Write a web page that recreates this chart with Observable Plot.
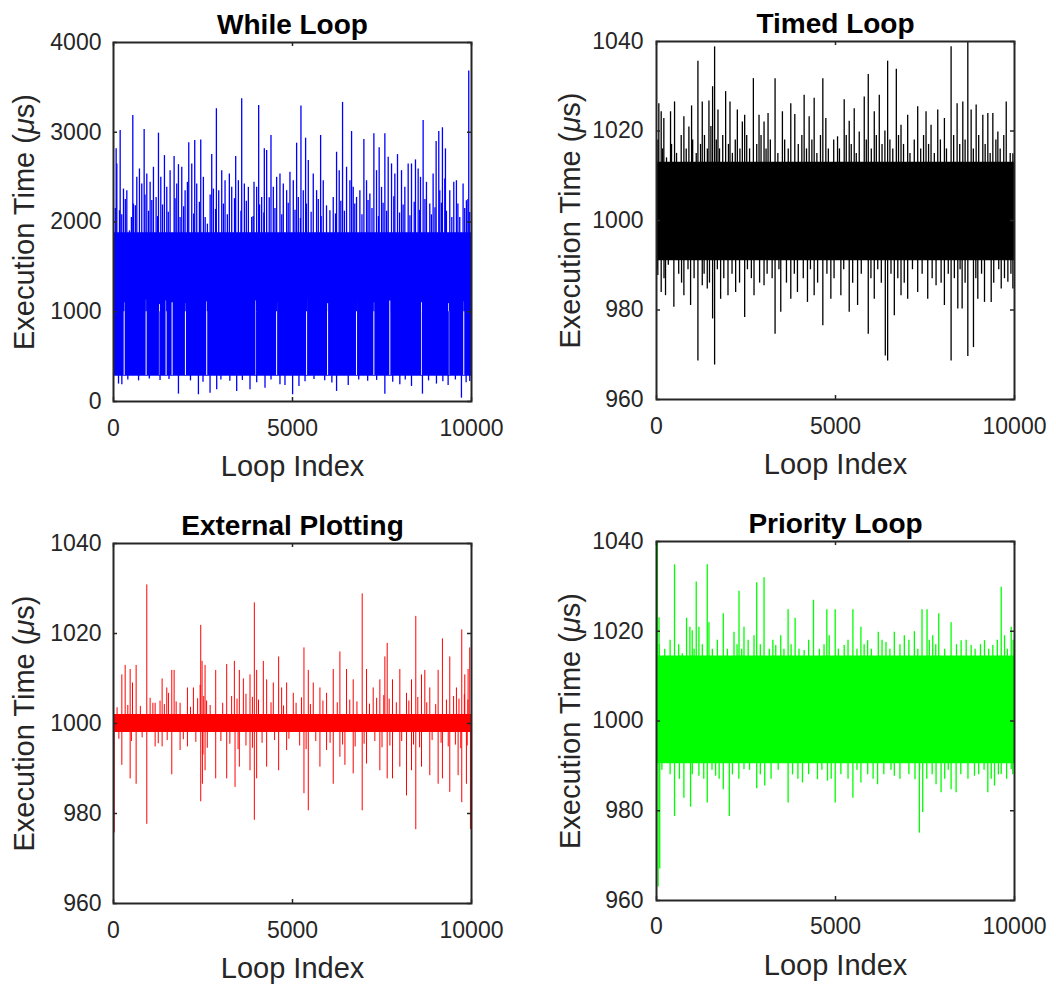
<!DOCTYPE html>
<html><head><meta charset="utf-8">
<script src="https://cdn.jsdelivr.net/npm/d3@7"></script>
<script src="https://cdn.jsdelivr.net/npm/@observablehq/plot@0.6"></script>
<style>
html,body{margin:0;padding:0;background:#fff;}
#fig{position:relative;width:1056px;height:986px;overflow:hidden;background:#fff;}
.panel{position:absolute;width:528px;height:493px;}
</style></head><body><div id="fig"></div>
<script>
// ---------- axis ticks ----------
const loopTicks = [0, 5000, 10000];
const whileTicks = [0, 1000, 2000, 3000, 4000];
const fineTicks = [960, 980, 1000, 1020, 1040];

// ---------- While Loop (blue) ----------
const whileCenter = 1000;
const whileCore = [[0, 280, 1880], [10000, 280, 1880]];
const whileTall = [[74,2815],[186,3020],[539,3187],[856,3031],[1256,2990],[1423,2740],[1693,2729],[1814,2639],[2102,2882],[2269,2908],[2437,2915],[2744,2751],[2874,3262],[3413,2729],[3581,3374],[4055,3299],[4213,2815],[4399,2964],[5115,2878],[5236,3292],[5366,2934],[5785,2964],[6231,2777],[6398,3333],[6650,3008],[6994,2919],[7273,2982],[7421,2826],[7580,2982],[7933,2751],[8435,2692],[8649,3132],[9012,2897],[9086,3008],[9188,3050],[9272,2815],[9923,3683]];
const whileMid = [[93,2647],[167,2125],[279,2367],[372,2349],[446,1901],[558,2200],[651,2498],[725,2591],[790,2423],[930,2535],[1023,2442],[1116,2610],[1190,2274],[1321,2498],[1488,2386],[1581,2572],[1767,2423],[1907,2610],[2000,2349],[2065,2442],[2186,2647],[2325,2423],[2511,2498],[2623,1976],[2790,2367],[2939,2349],[3023,2572],[3116,2460],[3236,2535],[3302,2386],[3488,2460],[3655,2423],[3767,2386],[3860,2050],[3925,2442],[3999,2386],[4139,2274],[4278,2796],[4464,2386],[4557,2498],[4650,2535],[4743,2423],[4836,2349],[4929,2554],[5022,2460],[5162,2274],[5301,2349],[5441,2684],[5580,2535],[5673,2349],[5859,2460],[6045,2125],[6138,2274],[6305,2572],[6510,2610],[6603,2460],[6696,2386],[6789,2274],[6882,2349],[7068,2460],[7161,2311],[7347,2572],[7487,2386],[7673,2721],[7766,2647],[7859,2535],[8045,2572],[8138,2386],[8231,2647],[8324,2647],[8510,2591],[8575,2498],[8742,2442],[8835,2200],[8928,2535],[9114,2349],[9254,2479],[9393,2349],[9505,2442],[9579,2460],[9672,2050],[9765,2423],[9858,2237],[9951,2106]];
const whileLow = [[50,2150],[230,2080],[330,2250],[500,2050],[610,2180],[880,2300],[980,2120],[1070,2240],[1230,2060],[1370,2190],[1530,2110],[1720,2260],[1860,2050],[1960,2170],[2240,2090],[2400,2220],[2560,2050],[2700,2300],[2850,2140],[3070,2200],[3180,2080],[3380,2260],[3560,2120],[3710,2230],[3900,2060],[4080,2190],[4200,2100],[4350,2270],[4510,2150],[4700,2080],[4880,2210],[5070,2130],[5220,2040],[5390,2200],[5520,2110],[5720,2250],[5800,2060],[5950,2180],[6200,2090],[6350,2230],[6450,2120],[6740,2200],[6940,2080],[7110,2240],[7220,2150],[7400,2060],[7530,2210],[7630,2120],[7830,2280],[7990,2100],[8090,2190],[8280,2070],[8400,2220],[8550,2130],[8700,2250],[8880,2080],[8980,2160],[9160,2210],[9300,2120],[9450,2050],[9620,2200],[9810,2150],[9900,2250]];
const whileDips = [[140,194],[233,186],[400,240],[700,230],[1000,250],[1300,235],[1550,245],[1814,82],[2150,230],[2372,75],[2500,215],[2697,93],[2883,130],[3000,240],[3250,225],[3441,112],[3600,235],[3813,130],[4000,210],[4232,149],[4400,240],[4650,186],[4790,179],[5003,75],[5180,168],[5350,220],[5600,245],[5900,230],[6100,205],[6231,112],[6557,179],[6850,240],[7100,225],[7350,235],[7580,82],[7800,215],[7998,186],[8150,240],[8324,168],[8630,82],[8800,230],[9021,194],[9200,220],[9347,179],[9550,240],[9719,37],[9850,210],[9951,224]];
const whileGaps = [[298,290,1100],[911,290,1130],[1283,290,1080],[1469,290,1120],[1637,290,1100],[2009,290,1090],[2604,290,1110],[3980,290,1120],[4557,290,1100],[5394,290,1130],[5980,290,1090],[6789,290,1110],[7273,290,1100],[7719,290,1120],[8603,290,1100],[9365,290,1090],[9784,290,1110]];

// ---------- Timed Loop (black) ----------
const timedCenter = 1001.5;
const timedCore = [[0, 991, 1013], [10000, 991, 1013]];
const timedTall = [[65,1026.1],[131,1024.3],[205,1022.8],[392,1024.3],[504,1026.5],[765,1023.2],[905,1020.9],[980,1025.6],[1157,1035.6],[1278,1026.5],[1465,1026.7],[1567,1029.9],[1623,1038.8],[1717,1024.7],[1931,1028.8],[2053,1026.5],[2258,1024.7],[2398,1022.0],[2463,1023.5],[2706,1031.7],[2864,1023.5],[3004,1022.0],[3116,1023.9],[3312,1031.7],[3517,1024.3],[3751,1026.1],[3863,1023.7],[4124,1028.0],[4264,1023.2],[4404,1027.3],[4646,1031.7],[4730,1022.8],[5057,1018.7],[5243,1027.0],[5383,1022.2],[5523,1025.0],[5663,1019.8],[5803,1027.6],[5915,1032.6],[6083,1024.3],[6223,1028.0],[6456,1035.6],[6699,1033.8],[6830,1021.3],[7016,1023.5],[7296,1025.4],[7529,1024.3],[7669,1021.3],[7856,1024.7],[8042,1022.8],[8229,1038.8],[8397,1026.1],[8556,1026.5],[8696,1040],[8789,1024.7],[8929,1025.8],[9115,1023.5],[9255,1023.9],[9395,1023.9],[9535,1019.8],[9769,1026.5],[9955,1014.9]];
const timedDeep = [[37,987.7],[131,983.9],[252,983.2],[485,980.6],[765,983.2],[952,981.0],[1157,968.6],[1278,985.4],[1418,984.7],[1567,978.0],[1623,967.7],[1791,982.4],[1997,983.2],[2211,983.9],[2463,978.3],[2724,983.2],[3004,985.4],[3312,974.6],[3471,979.5],[3751,982.4],[3937,983.9],[4217,981.7],[4404,983.2],[4646,976.5],[4870,982.4],[5150,983.2],[5383,979.5],[5617,981.0],[5915,974.6],[6083,982.4],[6391,969.7],[6456,968.6],[6643,978.7],[6830,983.2],[7016,982.4],[7296,983.9],[7576,982.4],[7809,985.4],[8042,981.0],[8229,968.6],[8416,980.2],[8537,980.2],[8696,969.6],[8854,971.6],[8975,982.4],[9162,981.7],[9349,981.7],[9629,984.7],[9815,986.2],[9955,984.7]];
const timedFringeUp = [[40,1018],[170,1016],[280,1014],[420,1017],[560,1015],[690,1019],[830,1016],[1010,1018],[1110,1015],[1230,1017],[1340,1019],[1420,1016],[1520,1021],[1670,1018],[1760,1016],[1850,1019],[2010,1017],[2120,1015],[2200,1018],[2330,1016],[2520,1019],[2600,1016],[2800,1017],[2920,1019],[3060,1016],[3180,1018],[3390,1015],[3580,1018],[3680,1016],[3960,1017],[4060,1019],[4190,1016],[4340,1018],[4480,1015],[4580,1019],[4800,1016],[4950,1018],[5110,1016],[5300,1019],[5440,1017],[5580,1015],[5860,1018],[6000,1016],[6140,1019],[6300,1017],[6380,1020],[6520,1018],[6600,1016],[6760,1019],[6900,1017],[7080,1015],[7200,1018],[7380,1016],[7460,1019],[7600,1017],[7760,1015],[7930,1018],[8100,1016],[8300,1019],[8470,1017],[8620,1018],[8850,1016],[9000,1019],[9180,1017],[9320,1015],[9480,1018],[9600,1016],[9700,1019],[9880,1015]];
const timedFringeDown = [[20,989],[210,987],[330,990],[620,988],[700,986],[880,989],[1050,987],[1330,988],[1480,986],[1700,989],[1880,987],[2110,988],[2320,986],[2540,989],[2650,987],[2880,986],[3090,988],[3230,987],[3420,989],[3630,986],[3850,988],[4100,987],[4300,989],[4500,986],[4760,988],[4960,987],[5230,989],[5480,986],[5720,988],[5990,987],[6180,989],[6280,986],[6550,988],[6740,987],[6920,986],[7150,989],[7420,988],[7700,987],[7950,986],[8150,988],[8320,987],[8480,989],[8620,986],[8920,987],[9080,988],[9420,986],[9560,989],[9720,987],[9900,988]];

// ---------- External Plotting (red) ----------
const extCenter = 1000;
const extCore = [[0, 998, 1002], [10000, 998, 1002]];
const extUp = [[233,1010.8],[326,1012.9],[465,1012.0],[530,1009.0],[632,1012.9],[930,1030.8],[1023,1005.6],[1163,1004.5],[1358,1009.9],[1488,1007.9],[1535,1006.7],[1628,1011.8],[1693,1011.8],[1860,1004.5],[2065,1007.9],[2232,1007.9],[2437,1021.8],[2474,1013.8],[2558,1012.9],[2855,1011.8],[3162,1013.1],[3376,1013.8],[3515,1011.8],[3627,1009.9],[3813,1010.8],[3934,1026.8],[3999,1011.8],[4185,1013.8],[4278,1009.7],[4464,1009.0],[4613,1014.8],[4697,1007.9],[4836,1009.0],[5022,1006.7],[5320,1016.8],[5441,1011.8],[5580,1009.0],[5766,1007.9],[5952,1006.7],[6138,1012.0],[6324,1015.9],[6510,1012.0],[6696,1009.7],[6947,1028.8],[7068,1012.0],[7254,1007.9],[7440,1009.7],[7580,1014.8],[7645,1017.8],[7793,1009.7],[7998,1012.0],[8184,1006.7],[8324,1009.7],[8444,1023.8],[8603,1010.8],[8696,1011.8],[8835,1007.9],[9068,1011.8],[9188,1018.8],[9393,1014.8],[9579,1007.9],[9728,1020.8],[9812,1010.8],[9905,1012.0],[9951,1016.8]];
const extDown = [[20,975.7],[233,990.7],[465,987.7],[632,986.5],[930,977.6],[1163,994.8],[1358,994.8],[1628,988.6],[1860,994.0],[2065,994.8],[2437,982.6],[2483,986.5],[2558,989.5],[2855,987.7],[3162,987.7],[3395,985.8],[3515,990.3],[3813,989.5],[3934,978.5],[3999,987.7],[4278,990.3],[4613,989.5],[4836,994.0],[5320,984.4],[5441,980.6],[5766,990.3],[5952,994.0],[6138,986.5],[6324,992.5],[6464,990.7],[6696,988.8],[6947,980.6],[7068,991.0],[7440,989.5],[7645,987.7],[7793,987.7],[7998,990.3],[8184,983.9],[8324,989.5],[8444,976.4],[8603,990.3],[8835,988.4],[9068,986.5],[9188,987.7],[9393,984.7],[9626,988.4],[9728,982.4],[9858,986.5],[9970,976.4]];
const extSmallUp = [[100,1003.5],[400,1004],[750,1003.8],[1100,1004.5],[1300,1005],[1420,1004.2],[1750,1004.8],[2150,1003.6],[2350,1005.5],[2420,1008.5],[2520,1006],[2600,1005],[2700,1004],[3050,1004.5],[3300,1006],[3450,1005.4],[3700,1006.5],[3880,1005.8],[4050,1005.2],[4400,1004.6],[4750,1003.9],[5100,1004.5],[5250,1005.7],[5500,1004.2],[5850,1005],[6250,1004.6],[6600,1005.2],[6800,1004.8],[7150,1004.3],[7350,1005.6],[7550,1006.2],[7700,1005.4],[7900,1004.6],[8250,1005],[8500,1005.8],[8750,1004.6],[9000,1004.2],[9300,1005.2],[9500,1006],[9650,1005.4],[9800,1006.4],[9900,1005.2]];
const extSmallDown = [[150,996.5],[500,996],[800,996.8],[1250,995.5],[1500,996.2],[1950,996.4],[2300,995.8],[2500,993],[2620,994.5],[3000,996],[3250,995.4],[3480,994.2],[3700,995],[3880,994.5],[4150,995.6],[4500,996.2],[4900,996.5],[5200,995],[5380,994.2],[5650,996],[6050,995.6],[6400,995.2],[6750,994.8],[7000,995.4],[7300,996],[7500,994.6],[7720,995],[8050,996],[8380,995.2],[8550,994.6],[8900,996.2],[9150,995.6],[9350,994.8],[9550,995.2],[9700,994.4],[9880,995]];

// ---------- Priority Loop (green) ----------
const prioCenter = 1002.5;
const prioCore = [[0, 990.5, 1014.5], [10000, 990.5, 1014.5]];
const prioStart = [[25,1040],[45,963],[70,1023],[90,967]];
const prioUp = [[504,1034.8],[840,1022.9],[933,1020.9],[998,1020.1],[1110,1031.0],[1185,1020.9],[1418,1034.8],[1465,1021.9],[1866,1023.9],[2165,1019.8],[2305,1028.9],[2444,1020.9],[2724,1019.0],[2799,1030.8],[3004,1031.9],[3331,1016.8],[3471,1019.0],[3676,1024.8],[3872,1022.9],[4124,1015.7],[4385,1026.9],[4758,1024.8],[4824,1019.0],[4992,1024.8],[5243,1016.8],[5486,1024.8],[5710,1020.9],[5897,1017.9],[6195,1019.8],[6410,1017.5],[6643,1019.8],[6923,1019.0],[7203,1019.9],[7417,1024.8],[7557,1024.8],[7716,1019.0],[7884,1023.9],[8229,1021.9],[8509,1017.9],[8789,1016.8],[9162,1017.9],[9395,1016.8],[9629,1029.8],[9722,1019.0],[9908,1020.9]];
const prioDown = [[504,978.7],[765,982.8],[952,980.8],[1185,987.7],[1418,981.7],[1651,987.7],[1866,984.7],[2034,978.7],[2444,989.2],[2799,984.9],[3023,985.5],[3676,981.7],[4077,986.2],[4497,986.9],[4777,986.6],[4992,981.7],[5486,982.8],[5710,986.2],[6176,985.8],[6643,987.7],[7221,986.9],[7343,975.0],[7436,979.6],[7809,985.8],[7949,984.0],[8229,984.7],[8369,984.0],[8882,987.7],[9255,984.0],[9442,985.5],[9629,988.1],[9908,989.2]];
const prioFringeUp = [[80,1017],[230,1016],[380,1018],[620,1017],[720,1015],[1050,1016],[1280,1017],[1560,1016],[1700,1018],[1980,1016],[2250,1017],[2380,1016],[2560,1018],[2900,1017],[3150,1016],[3250,1018],[3560,1016],[3760,1017],[3980,1016],[4250,1018],[4550,1016],[4680,1017],[5080,1016],[5350,1018],[5600,1016],[5800,1017],[6000,1016],[6300,1018],[6520,1016],[6800,1017],[7050,1018],[7300,1016],[7620,1018],[7800,1017],[8050,1016],[8380,1017],[8650,1018],[8900,1016],[9050,1017],[9280,1016],[9520,1018],[9800,1016],[9960,1018]];
const prioFringeDown = [[150,989],[380,988],[640,987],[1000,988],[1320,987],[1550,989],[1750,987],[2120,988],[2300,987],[2600,989],[2900,988],[3200,987],[3400,989],[3800,988],[3950,987],[4250,988],[4620,989],[4880,987],[5150,988],[5350,987],[5600,989],[5900,988],[6050,987],[6350,988],[6550,989],[6800,987],[7050,988],[7350,989],[7550,987],[7700,988],[8050,987],[8150,989],[8500,988],[8700,987],[9000,988],[9150,989],[9350,987],[9550,988],[9780,987],[9950,988]];

// ---------- drawing ----------
const AX = "#262626";
const FONT = "'Liberation Sans', Arial, Helvetica, sans-serif";
const W = 528, H = 493;

function panel(cfg) {
  const m = cfg.margin;
  const iw = W - m.left - m.right, ih = H - m.top - m.bottom;
  const coreRows = cfg.core.map(([idx, lo, hi]) => ({idx, lo, hi}));
  const spikeRows = cfg.spikes.map(([idx, val]) => ({idx, val}));
  const marks = [
    Plot.areaY(coreRows, {x: "idx", y1: "lo", y2: "hi", fill: cfg.color, curve: "step-after"})
  ];
  if (cfg.gaps) {
    marks.push(Plot.ruleX(cfg.gaps.map(([idx, lo, hi]) => ({idx, lo, hi})),
      {x: "idx", y1: "lo", y2: "hi", stroke: "#ffffff", strokeWidth: 1}));
  }
  marks.push(Plot.ruleX(spikeRows, {x: "idx", y1: () => cfg.center, y2: "val",
    stroke: cfg.color, strokeWidth: cfg.lineWidth, clip: true}));
  marks.push(
    Plot.tickX(loopTicks, {x: d => d, stroke: AX, strokeWidth: 1.5, insetTop: ih - 4}),
    Plot.tickX(loopTicks, {x: d => d, stroke: AX, strokeWidth: 1.5, insetBottom: ih - 4}),
    Plot.tickY(cfg.yTicks, {y: d => d, stroke: AX, strokeWidth: 1.5, insetRight: iw - 4}),
    Plot.tickY(cfg.yTicks, {y: d => d, stroke: AX, strokeWidth: 1.5, insetLeft: iw - 4}),
    Plot.frame({stroke: AX, strokeWidth: 2}),
    Plot.axisX(loopTicks, {tickSize: 0, tickPadding: cfg.xPad, tickFormat: "d", label: null, fontSize: 23}),
    Plot.axisY(cfg.yTicks, {tickSize: 0, tickPadding: cfg.yPad, tickFormat: "d", label: null, fontSize: 23}),
    Plot.text([cfg.title], {text: d => d, frameAnchor: "top", lineAnchor: "bottom", dy: -9,
      fontSize: 28, fontWeight: "bold", fill: "#000"}),
    Plot.text(["Loop Index"], {text: d => d, frameAnchor: "bottom", lineAnchor: "bottom", dy: 74,
      fontSize: 29, fill: AX}),
    Plot.text(["Execution Time (μs)"], {text: d => d, frameAnchor: "left", rotate: -90,
      lineAnchor: "bottom", textAnchor: "middle", dx: cfg.labelDx, fontSize: 29, fill: AX})
  );
  const svg = Plot.plot({
    width: W, height: H,
    marginLeft: m.left, marginRight: m.right, marginTop: m.top, marginBottom: m.bottom,
    x: {domain: [0, 10000]},
    y: {domain: cfg.yDomain},
    style: {fontFamily: FONT, fontSize: "23px", color: AX, background: "transparent", overflow: "visible"},
    marks
  });
  d3.select(svg).selectAll("text").filter(function () {
    return this.textContent === "Execution Time (μs)";
  }).each(function () {
    const t = d3.select(this);
    t.text(null);
    t.append("tspan").text("Execution Time (");
    t.append("tspan").attr("font-style", "italic").text("μ");
    t.append("tspan").text("s)");
  });
  const div = document.createElement("div");
  div.className = "panel";
  div.style.left = cfg.left + "px";
  div.style.top = cfg.top + "px";
  div.appendChild(svg);
  document.getElementById("fig").appendChild(div);
}

panel({
  title: "While Loop", color: "#0000ff", left: 0, top: 0,
  margin: {left: 113, right: 57, top: 42, bottom: 92},
  yDomain: [0, 4000], yTicks: whileTicks, center: whileCenter,
  core: whileCore, gaps: whileGaps, lineWidth: 1.3,
  spikes: [...whileLow, ...whileMid, ...whileTall, ...whileDips],
  xPad: 18, yPad: 12, labelDx: -80
});
panel({
  title: "Timed Loop", color: "#000000", left: 528, top: 0,
  margin: {left: 128, right: 42, top: 41, bottom: 94},
  yDomain: [960, 1040], yTicks: fineTicks, center: timedCenter,
  core: timedCore, lineWidth: 1.3,
  spikes: [...timedFringeUp, ...timedFringeDown, ...timedTall, ...timedDeep],
  xPad: 18, yPad: 13, labelDx: -77
});
panel({
  title: "External Plotting", color: "#ff0000", left: 0, top: 493,
  margin: {left: 113, right: 57, top: 50, bottom: 83},
  yDomain: [960, 1040], yTicks: fineTicks, center: extCenter,
  core: extCore, lineWidth: 1,
  spikes: [...extSmallUp, ...extSmallDown, ...extUp, ...extDown],
  xPad: 18, yPad: 12, labelDx: -80
});
panel({
  title: "Priority Loop", color: "#00ff00", left: 528, top: 493,
  margin: {left: 128, right: 42, top: 48, bottom: 86},
  yDomain: [960, 1040], yTicks: fineTicks, center: prioCenter,
  core: prioCore, lineWidth: 1.3,
  spikes: [...prioFringeUp, ...prioFringeDown, ...prioUp, ...prioDown, ...prioStart],
  xPad: 17, yPad: 13, labelDx: -77
});
</script>
</body></html>
